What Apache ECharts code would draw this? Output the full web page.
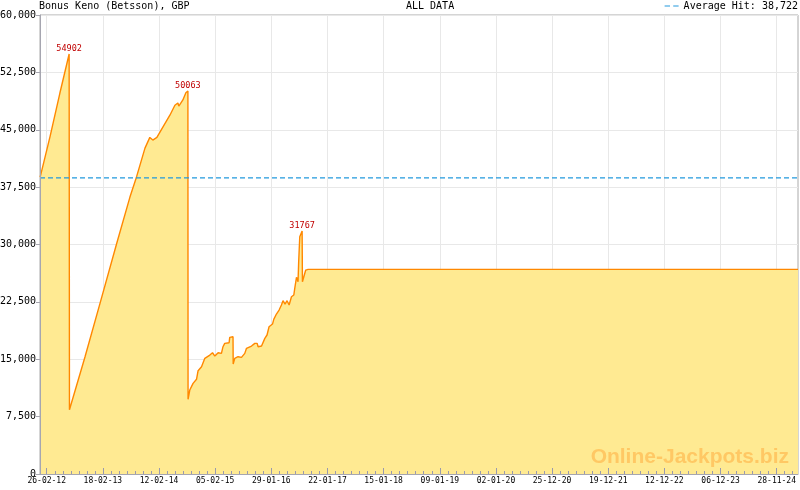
<!DOCTYPE html>
<html style="height: 100%">
<head>
    <meta charset="utf-8">
</head>
<body style="height: 100%; margin: 0">
    <div id="container" style="width: 800px; height: 490px"></div>
    <script type="text/javascript" src="https://cdn.jsdelivr.net/npm/echarts@6/dist/echarts.min.js"></script>
    <script type="text/javascript">
        // jackpot value
        var dates = [
            '2012-01-15', '2012-03-18', '2012-05-20', '2012-07-18', '2012-07-20',
            '2012-10-27', '2013-01-31', '2013-05-17', '2013-08-10', '2013-09-22', '2013-11-14',
            '2013-12-15', '2014-01-03', '2014-01-29', '2014-03-10', '2014-04-22', '2014-05-24',
            '2014-06-12', '2014-06-18', '2014-07-14', '2014-08-02', '2014-08-15', '2014-08-16',
            '2014-08-27', '2014-09-17', '2014-10-09', '2014-10-19', '2014-11-10', '2014-12-01',
            '2015-01-02', '2015-01-19', '2015-02-03', '2015-02-24', '2015-03-17', '2015-03-27',
            '2015-04-07', '2015-05-05', '2015-05-09', '2015-05-30', '2015-05-31', '2015-06-10',
            '2015-07-01', '2015-07-12', '2015-07-23', '2015-08-13', '2015-08-24', '2015-09-25',
            '2015-10-16', '2015-10-31', '2015-11-06', '2015-11-28', '2015-12-19', '2016-01-02',
            '2016-01-15', '2016-02-06', '2016-02-14', '2016-03-02', '2016-03-19', '2016-04-03',
            '2016-04-13', '2016-04-26', '2016-05-09', '2016-05-22', '2016-06-06', '2016-06-21',
            '2016-06-27', '2016-07-08', '2016-07-18', '2016-07-22', '2016-07-29', '2016-08-13',
            '2016-08-15', '2016-08-24', '2016-09-05', '2016-09-20', '2025-04-13'
        ];
        var values = [
            38800, 44100, 49800, 54902, 8400,
            15300, 22300, 30100, 36200, 38900, 42600,
            44000, 43650, 44000, 45400, 46900, 48200,
            48500, 48100, 48900, 49840, 50063, 9760,
            10980, 11850, 12380, 13500, 14020, 15120,
            15550, 15850, 15420, 15850, 15770, 16640,
            17080, 17160, 17860, 17940, 14380, 15120,
            15330, 15550, 15250, 15770, 16430, 16730,
            17080, 17080, 16640, 16730, 17730, 18170,
            19250, 19600, 20220, 20910, 21430, 22090,
            22650, 22220, 22650, 22090, 23170, 23400,
            24270, 25710, 25130, 27750, 31020, 31767,
            25130, 25790, 26660, 26750, 26750
        ];
        var peakValues = [54902, 50063, 31767];
        var avgHit = 38722;

        var tickDates = [
            '2012-02-26', '2013-02-18', '2014-02-12', '2015-02-05', '2016-01-29',
            '2017-01-22', '2018-01-15', '2019-01-09', '2020-01-02', '2020-12-25',
            '2021-12-19', '2022-12-12', '2023-12-06', '2024-11-28'
        ];
        var axisStart = '2012-01-14';
        var axisEnd = '2025-04-13';

        function toMs(s) {
            var p = s.split('-');
            return Date.UTC(+p[0], +p[1] - 1, +p[2]);
        }
        function pad(n) {
            return (n < 10 ? '0' : '') + n;
        }
        function fmtDate(ms) {
            var d = new Date(ms);
            return pad(d.getUTCDate()) + '-' + pad(d.getUTCMonth() + 1) + '-' + pad(d.getUTCFullYear() % 100);
        }

        var mono = '"DejaVu Sans Mono", "Liberation Mono", monospace';
        var majorTicks = tickDates.map(toMs);
        // 7 small ticks per labelled step
        var step = (majorTicks[majorTicks.length - 1] - majorTicks[0]) / (majorTicks.length - 1);
        var minorTicks = [];
        for (var t = majorTicks[0]; t <= toMs(axisEnd); t += step / 7) {
            minorTicks.push(t);
        }

        var lineData = [];
        for (var i = 0; i < dates.length; i++) {
            lineData.push([toMs(dates[i]), values[i]]);
        }
        var peaks = peakValues.map(function (v) {
            var k = values.indexOf(v);
            return { coord: lineData[k], value: v };
        });

        var dom = document.getElementById('container');
        var myChart = echarts.init(dom);
        var axisGray = '#a6a6b0';

        // overlay axes only carry axis line and tick marks, drawn above the area
        function tickAxis(ticks, len, line) {
            return {
                type: 'value',
                position: 'bottom',
                min: toMs(axisStart),
                max: toMs(axisEnd),
                axisLine: { show: line, lineStyle: { color: axisGray } },
                axisTick: { show: true, inside: true, length: len, customValues: ticks, lineStyle: { color: '#9a9aae', width: 1 } },
                axisLabel: { show: false },
                splitLine: { show: false },
                z: 5
            };
        }

        var option = {
            animation: false,
            backgroundColor: '#fff',
            title: [
                {
                    text: 'Bonus Keno (Betsson), GBP',
                    left: 39, top: 1, padding: 0,
                    textStyle: { fontFamily: mono, fontSize: 10, fontWeight: 'normal', color: '#000' }
                },
                {
                    text: 'ALL DATA',
                    left: 406, top: 1, padding: 0,
                    textStyle: { fontFamily: mono, fontSize: 10, fontWeight: 'normal', color: '#000' }
                }
            ],
            legend: {
                data: ['Average Hit: 38,722'],
                right: 2, top: 1, padding: 0,
                icon: 'path://M0,0h5v1h-5z M8,0h5v1h-5z',
                itemWidth: 14, itemHeight: 2, itemGap: 3,
                textStyle: { fontFamily: mono, fontSize: 10, color: '#000' }
            },
            grid: {
                left: 40, right: 2, top: 15, bottom: 16,
                show: true, borderColor: '#aaaaaa', borderWidth: 1,
                outerBoundsMode: 'none'
            },
            xAxis: [
                {
                    type: 'value',
                    min: toMs(axisStart),
                    max: toMs(axisEnd),
                    axisLine: { show: false },
                    axisTick: { show: false, customValues: majorTicks },
                    axisLabel: {
                        customValues: majorTicks, margin: 3,
                        fontFamily: mono, fontSize: 8, color: '#000',
                        formatter: function (v) { return fmtDate(v); }
                    },
                    splitLine: { show: true, lineStyle: { color: '#e8e8e8' } }
                },
                tickAxis(minorTicks, 3, false),
                tickAxis(majorTicks, 6, true)
            ],
            yAxis: [
                {
                    type: 'value',
                    min: 0, max: 60000, interval: 7500,
                    axisLine: { show: false },
                    axisTick: { show: false },
                    axisLabel: {
                        margin: 4, fontFamily: mono, fontSize: 10, color: '#000',
                        formatter: function (v) { return v.toLocaleString('en-US'); }
                    },
                    splitLine: { show: true, lineStyle: { color: '#e8e8e8' } }
                },
                {
                    type: 'value',
                    position: 'left',
                    min: 0, max: 60000, interval: 7500,
                    axisLine: { show: true, lineStyle: { color: axisGray } },
                    axisTick: { show: true, length: 4, lineStyle: { color: axisGray } },
                    axisLabel: { show: false },
                    splitLine: { show: false },
                    z: 5
                }
            ],
            series: [
                {
                    name: 'Bonus Keno',
                    type: 'line',
                    data: lineData,
                    showSymbol: false,
                    symbol: 'none',
                    color: '#ff8800',
                    lineStyle: { color: '#ff8800', width: 1.4 },
                    areaStyle: { color: '#ffea92', opacity: 1 },
                    z: 2,
                    markPoint: {
                        symbol: 'circle', symbolSize: 0,
                        silent: true,
                        label: {
                            show: true, position: 'top', distance: 1,
                            fontFamily: mono, fontSize: 8.5, color: '#c00000',
                            formatter: '{c}'
                        },
                        data: peaks
                    }
                },
                {
                    name: 'Average Hit: 38,722',
                    type: 'line',
                    data: [[toMs(axisStart), avgHit], [toMs(axisEnd), avgHit]],
                    showSymbol: false,
                    symbol: 'none',
                    color: '#2299dd',
                    itemStyle: { color: '#2299dd' },
                    lineStyle: { color: '#2299dd', width: 1.2, type: [5, 3] },
                    z: 3
                }
            ],
            graphic: [
                {
                    type: 'text',
                    right: 11, top: 447, z: 10, silent: true,
                    style: {
                        text: 'Online-Jackpots.biz',
                        font: 'bold 21px "Liberation Sans", Arial, sans-serif',
                        fill: '#ffc864'
                    }
                }
            ]
        };
        myChart.setOption(option);
    </script>
</body>
</html>
